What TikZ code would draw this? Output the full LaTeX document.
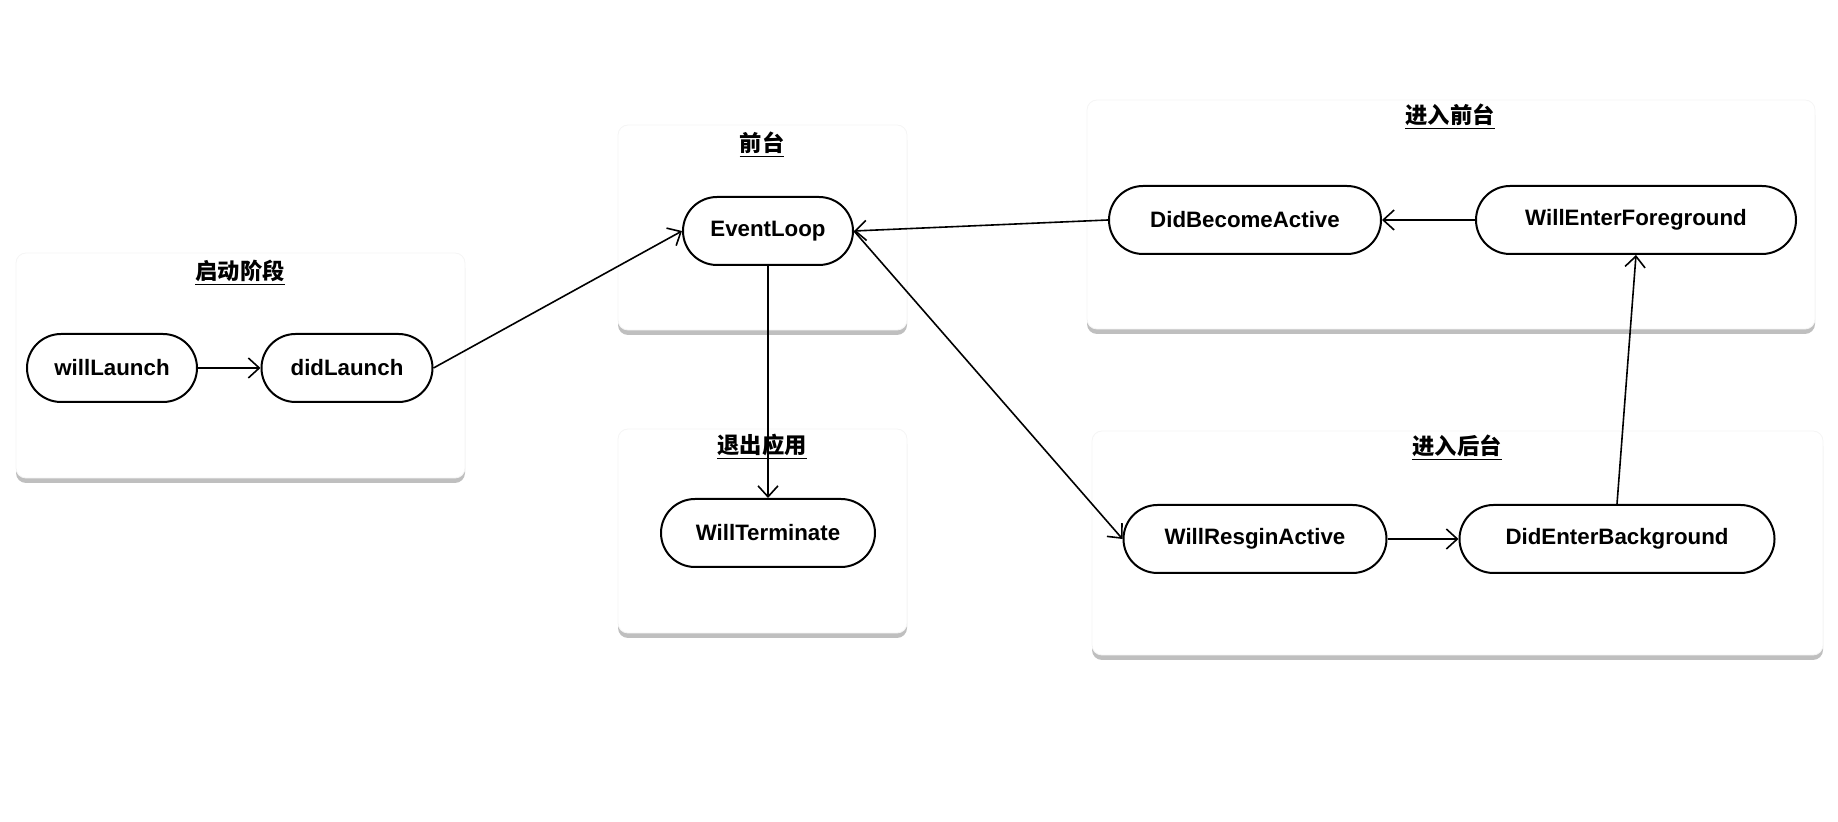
\documentclass[tikz,border=0pt]{standalone}
\usepackage{fontspec}
\setmainfont{Liberation Sans}
\newfontfamily\cjk{Noto Sans CJK SC}
\usetikzlibrary{arrows.meta, shadows}

\tikzset{
  state/.style = {draw, line width=1pt, rounded corners=17pt, minimum height=34pt,
                  inner xsep=0pt, font=\fontsize{11.15}{13}\selectfont\bfseries},
  stage/.style = {fill=white, draw=black!4, rounded corners=5pt,
                  drop shadow={shadow xshift=0pt, shadow yshift=-2.5pt, opacity=0.5}},
  stagetitle/.style = {font=\cjk\fontsize{11.15}{13}\selectfont\bfseries},
  flow/.style = {line width=0.8pt, -{Straight Barb[length=5.5pt,width=10pt]}}
}

\begin{document}
\begin{tikzpicture}[x=0.5pt, y=-0.5pt]
\useasboundingbox (0,0) rectangle (1838,822);
% stages
\path[stage] (16,253) rectangle (465,478);
\path[stage] (618,125) rectangle (907,330);
\path[stage] (618,429) rectangle (907,633);
\path[stage] (1087,100) rectangle (1815,329);
\path[stage] (1092,431) rectangle (1823,655);
\path (240,273) node[stagetitle] (tLaunch) {\underline{启动阶段}};
\path (762,145) node[stagetitle] (tFront) {\underline{前台}};
\path (762,447) node[stagetitle] (tQuit) {\underline{退出应用}};
\path (1450,117) node[stagetitle] (tEnterFg) {\underline{进入前台}};
\path (1457,448) node[stagetitle] (tEnterBg) {\underline{进入后台}};
% states
\path (112,368) node[state, minimum width=85pt] (willLaunch) {willLaunch};
\path (347,368) node[state, minimum width=85.5pt] (didLaunch) {didLaunch};
\path (768,231) node[state, minimum width=85pt] (loop) {EventLoop};
\path (768,533) node[state, minimum width=107pt] (terminate) {WillTerminate};
\path (1245,220) node[state, minimum width=136pt] (becomeActive) {DidBecomeActive};
\path (1636,220) node[state, minimum width=160pt] (enterFg) {WillEnterForeground};
\path (1255,539) node[state, minimum width=131.5pt] (resign) {WillResginActive};
\path (1617,539) node[state, minimum width=157.5pt] (enterBg) {DidEnterBackground};
% transitions
\draw[flow] (willLaunch) -- (didLaunch);
\draw[flow] (didLaunch.east) -- (loop.west);
\draw[flow] (loop.south) -- (terminate.north);
\draw[flow] (loop.east) -- (resign.west);
\draw[flow] (resign) -- (enterBg);
\draw[flow] (enterBg.north) -- (enterFg.south);
\draw[flow] (enterFg) -- (becomeActive);
\draw[flow] (becomeActive.west) -- (loop.east);
\end{tikzpicture}
\end{document}
